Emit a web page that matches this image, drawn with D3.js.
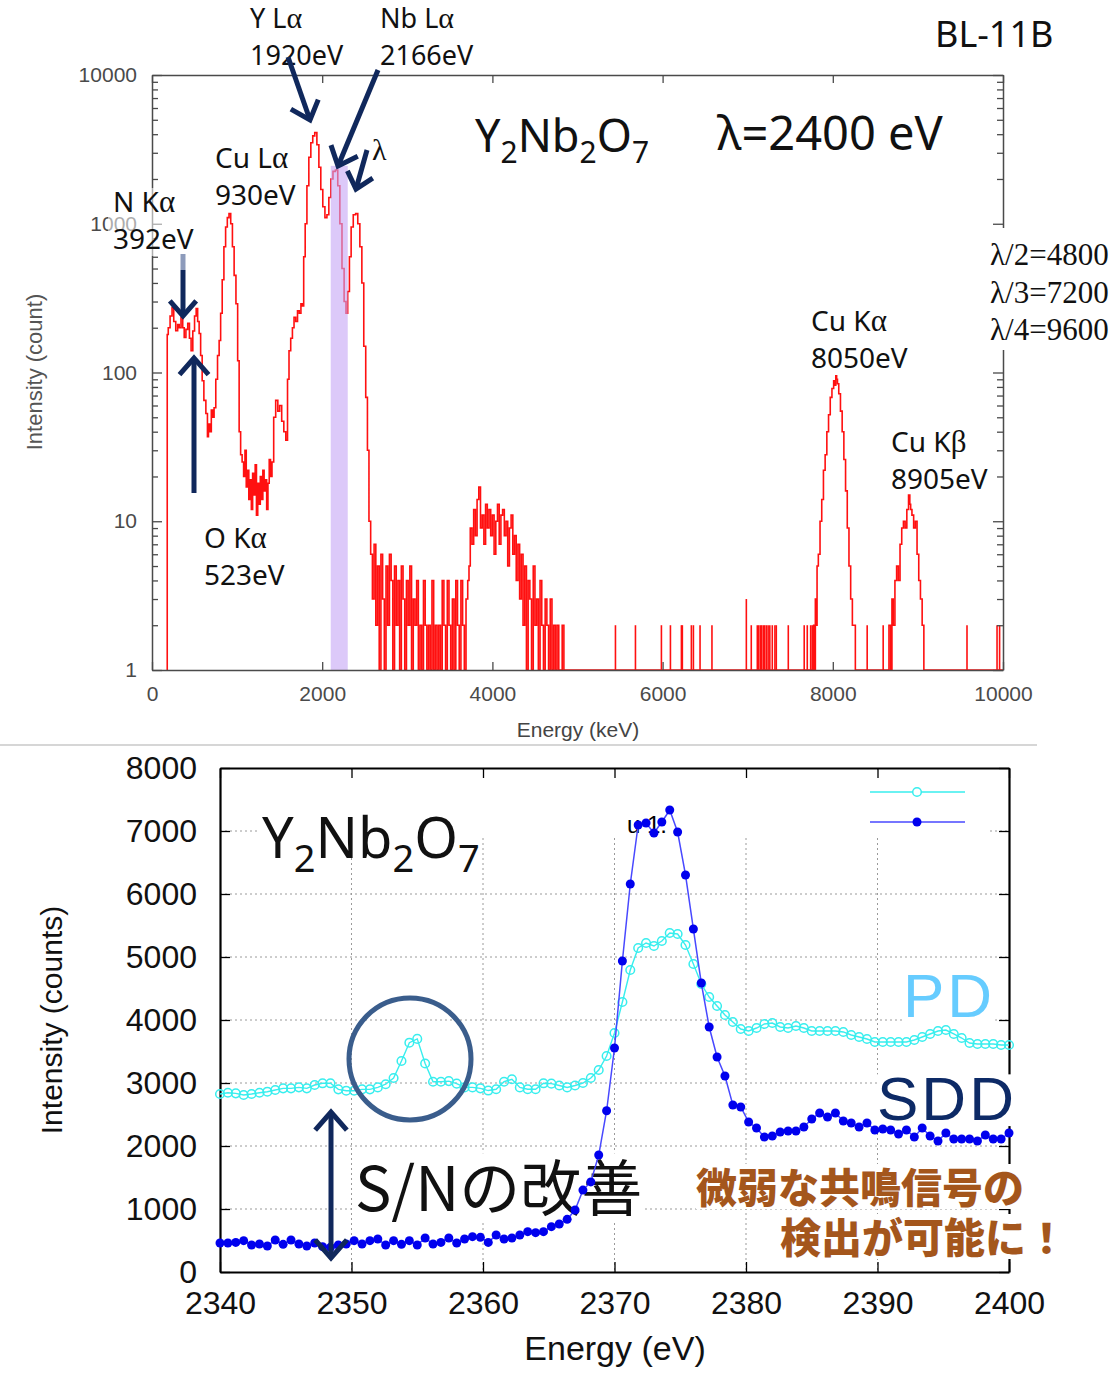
<!DOCTYPE html>
<html><head><meta charset="utf-8">
<script src="https://cdn.jsdelivr.net/npm/d3@7"></script>
<style>body{margin:0;background:#fff}svg{display:block}</style>
</head><body>
<svg id="c" width="1115" height="1394"></svg>
<script>
// ===== TOP PANEL DATA (fluorescence spectrum, Energy eV -> counts) =====
const specNO = [[170,1],[176,1],[182,180],[200,200],[225,240],[246,273],[265,220],[293,191],[310,210],[330,200],[352,235],[370,200],[387,172],[410,195],[430,214],[450,170],[469,140],[490,190],[510,240],[528,269],[545,220],[563,183],[580,130],[599,88],[620,65],[646,53],[657,37],[670,45],[690,40],[704,56],[720,50],[739,58],[760,90],[780,130],[798,164]];
const specCuL = [[815,250],[835,420],[855,700],[875,950],[895,1100],[915,1170],[935,1000],[955,700],[975,450],[998,290],[1015,120],[1033,40],[1050,28],[1068,25],[1085,20],[1100,30],[1115,17],[1130,22],[1145,14],[1160,19],[1175,12],[1190,21],[1205,15],[1220,24],[1235,11],[1250,18],[1265,13],[1280,20],[1295,14],[1310,22],[1325,16],[1340,19],[1355,12],[1370,18],[1385,26]];
const specYNb = [[1400,20],[1420,25],[1440,50],[1467,65],[1490,55],[1510,60],[1538,47],[1560,40],[1585,35],[1600,90],[1620,140],[1640,170],[1660,200],[1678,235],[1700,220],[1720,260],[1740,250],[1760,290],[1775,280],[1790,600],[1810,1000],[1831,1800],[1855,2800],[1878,3500],[1900,3900],[1925,4100],[1950,3400],[1972,2400],[1995,1700],[2019,1300],[2045,1100],[2066,1150],[2090,1500],[2113,2000],[2140,2250],[2171,2300],[2195,1800],[2220,1000],[2245,500],[2270,300],[2289,250],[2310,350],[2330,600],[2350,950],[2380,1150],[2406,1170],[2430,1000],[2455,700],[2477,400],[2500,150],[2523,68],[2540,30],[2559,10]];
const specNoise = [[2580,6],[2600,3],[2620,7],[2640,2],[2660,5],[2680,1],[2700,6],[2720,3],[2740,1],[2760,5],[2780,2],[2800,6],[2820,4],[2840,1],[2860,5],[2880,2],[2900,4],[2920,1],[2940,5],[2960,3],[2980,1],[3000,4],[3020,2],[3040,5],[3060,1],[3080,3],[3100,2],[3120,4],[3140,1],[3160,2],[3180,1],[3200,4],[3220,2],[3240,1],[3260,2],[3280,1],[3300,4],[3320,1],[3340,2],[3360,1],[3380,2],[3400,1],[3420,4],[3440,2],[3460,1],[3480,4],[3500,2],[3520,1],[3540,3],[3560,1],[3580,4],[3600,2],[3620,1],[3640,4],[3660,2],[3680,1],[3700,3],[3720,4]];
const specBump = [[3730,5],[3750,9],[3770,7],[3790,12],[3810,8],[3830,14],[3850,17],[3870,9],[3890,11],[3910,7],[3930,13],[3950,9],[3970,12],[3990,8],[4010,11],[4030,6],[4050,10],[4070,13],[4090,7],[4110,11],[4130,12],[4150,8],[4170,10],[4190,5],[4210,9],[4230,11],[4250,6],[4270,8],[4290,4],[4310,7],[4330,3],[4350,6],[4370,2],[4390,5],[4410,1],[4430,4],[4450,3],[4470,1],[4490,5],[4510,2],[4530,3],[4550,1],[4570,4],[4590,2],[4610,1],[4630,3],[4650,2],[4670,1],[4690,3],[4710,1],[4730,2],[4750,1],[4770,2],[4790,1],[4810,1],[4830,2],[4850,1],[4870,1]];
const specCuKa = [[7770,1],[7780,2],[7790,1],[7800,3],[7810,2],[7820,5],[7840,6],[7860,10],[7880,14],[7900,22],[7920,28],[7940,40],[7960,52],[7980,68],[8000,78],[8020,88],[8030,82],[8040,95],[8050,90],[8060,84],[8080,72],[8100,55],[8120,40],[8140,26],[8160,16],[8180,9],[8200,5],[8220,3],[8240,2],[8260,2],[8270,1]];
const specCuKb = [[8650,1],[8670,2],[8690,1],[8700,3],[8720,2],[8740,4],[8760,5],[8780,4],[8800,7],[8820,9],[8840,10],[8860,9],[8880,12],[8900,15],[8910,13],[8920,12],[8940,11],[8960,9],[8980,10],[9000,6],[9020,4],[9040,3],[9060,2],[9080,1],[10000,1]];
// isolated single events in the empty region [energy, counts]
const sparseSpikes = [[5446,2],[5681,2],[5986,2],[6092,2],[6221,2],[6232,2],[6338,2],[6362,2],[6440,2],[6580,2],[6984,3],[7042,2],[7113,2],[7130,2],[7150,2],[7165,2],[7185,2],[7200,2],[7220,2],[7240,2],[7260,2],[7289,2],[7320,2],[7336,2],[7477,2],[7664,2],[7700,2],[7740,2],[7758,2],[8404,2],[8592,2],[9577,2],[9930,2],[9960,2]];
const bandRange = [2100, 2300];   // incident energy window (lambda)
const bandTop = 2450;
const topXTicks = [0,2000,4000,6000,8000,10000];
const topYTicks = [1,10,100,1000,10000];

// ===== BOTTOM PANEL DATA (scan 2340-2400 eV, 0.6 eV step) =====
const scanStart = 2340, scanStep = 0.6;
const pdCounts = [2825,2846,2836,2810,2825,2846,2862,2889,2915,2915,2931,2915,2968,2995,2995,2899,2878,2878,2899,
 2899,2930,2980,3080,3350,3640,3700,3310,3020,3020,3030,2990,2930,2930,2915,2880,2900,3020,3060,2930,2900,2900,2995,2990,2960,2930,2960,3000,
 3079,3206,3429,3794,4286,4794,5143,5222,5175,5254,5381,5365,5190,4889,4571,4365,4222,4079,3968,3857,
 3825,3873,3937,3952,3889,3873,3905,3873,3825,3825,3825,3825,3810,3762,3730,3698,3651,3651,3651,3651,
 3651,3683,3730,3778,3825,3841,3778,3714,3635,3619,3619,3619,3603,3603];
const sddCounts = [460,460,470,497,428,444,413,508,439,508,444,413,460,402,391,428,444,497,444,497,
 523,428,497,439,497,428,540,444,470,540,460,523,561,550,470,587,523,540,587,640,
 624,640,720,762,836,984,1300,1430,1857,2560,
 3555,4937,6159,7095,7127,6968,7143,7333,6984,6302,5444,4587,3889,3413,3111,2651,2619,2381,2286,2143,
 2159,2222,2238,2238,2302,2429,2524,2460,2524,2397,2365,2302,2365,2254,2270,2254,2190,2254,2143,2286,
 2159,2079,2206,2111,2111,2111,2079,2175,2111,2111,2206];
const bottomXTicks = [2340,2350,2360,2370,2380,2390,2400];
const bottomYTicks = [0,1000,2000,3000,4000,5000,6000,7000,8000];

const svg = d3.select('#c');
const defs = svg.append('defs');
defs.append('clipPath').attr('id','topclip').append('rect').attr('x',0).attr('y',0).attr('width',1038).attr('height',745);
defs.append('clipPath').attr('id','plotclip').append('rect').attr('x',152).attr('y',75).attr('width',851).attr('height',596);

const NAVY = '#10285c';
function arrow(g, x1, y1, x2, y2, opts = {}) {
  const col = opts.color || NAVY, w = opts.width || 5, L = opts.head || 22;
  g.append('line').attr('x1',x1).attr('y1',y1).attr('x2',x2).attr('y2',y2)
    .attr('stroke',col).attr('stroke-width',w);
  const chev = (tx, ty, a) => {
    const s = 0.72;
    const p1 = [tx - L*Math.cos(a - s), ty - L*Math.sin(a - s)];
    const p2 = [tx - L*Math.cos(a + s), ty - L*Math.sin(a + s)];
    g.append('polyline').attr('points',[p1,[tx,ty],p2].map(p=>p.join(',')).join(' '))
      .attr('fill','none').attr('stroke',col).attr('stroke-width',w).attr('stroke-linejoin','miter');
  };
  const a = Math.atan2(y2-y1, x2-x1);
  chev(x2, y2, a);
  if (opts.both) chev(x1, y1, a + Math.PI);
}

// ================= TOP PANEL =================
const xTop = d3.scaleLinear().domain([0,10000]).range([152,1003]);
const yTop = d3.scaleLog().domain([1,10000]).range([670,75]);
const gTop = svg.append('g').attr('clip-path','url(#topclip)');

const spectrum = [].concat(specNO, specCuL, specYNb, specNoise, specBump, [[4880,1],[7760,1]], specCuKa, [[8290,1],[8640,1]], specCuKb);
const plotG = gTop.append('g').attr('clip-path','url(#plotclip)');
plotG.append('path').datum(spectrum)
  .attr('d', d3.line().x(d=>xTop(d[0])).y(d=>yTop(d[1])).curve(d3.curveStep))
  .attr('fill','none').attr('stroke','#ff1010').attr('stroke-width',1.6);
plotG.selectAll('line.spk').data(sparseSpikes).join('line').attr('class','spk')
  .attr('x1',d=>xTop(d[0])).attr('x2',d=>xTop(d[0]))
  .attr('y1',yTop(1)).attr('y2',d=>yTop(d[1]))
  .attr('stroke','#ff1010').attr('stroke-width',1.6);
// lambda window band
plotG.append('rect').attr('x',xTop(bandRange[0])).attr('width',xTop(bandRange[1])-xTop(bandRange[0]))
  .attr('y',yTop(bandTop)).attr('height',yTop(1)-yTop(bandTop))
  .attr('fill','#c5a5f5').attr('opacity',0.6);

const minorY = [];
[1,10,100,1000].forEach(d=>{ for (let k=2;k<=9;k++) minorY.push(d*k); });
const axCol = '#4a4a4a';
function styleAxis(sel, fs, col) {
  sel.select('.domain').attr('stroke',col).attr('stroke-width',1.5);
  sel.selectAll('.tick line').attr('stroke',col).attr('stroke-width',1.3);
  sel.selectAll('.tick text').attr('fill',col).style('font-family','"Liberation Sans", Arial, sans-serif').style('font-size',fs+'px');
}
gTop.append('g').attr('transform','translate(152,0)')
  .call(d3.axisLeft(yTop).tickValues(topYTicks).tickFormat(d3.format('d')).tickSize(-10).tickSizeOuter(0).tickPadding(15))
  .call(s=>styleAxis(s,21,axCol));
gTop.append('g').attr('transform','translate(152,0)')
  .call(d3.axisLeft(yTop).tickValues(minorY).tickFormat('').tickSize(-6))
  .call(s=>{styleAxis(s,21,axCol); s.select('.domain').remove();});
gTop.append('g').attr('transform','translate(1003,0)')
  .call(d3.axisRight(yTop).tickValues(topYTicks).tickFormat('').tickSize(-10).tickSizeOuter(0))
  .call(s=>styleAxis(s,21,axCol));
gTop.append('g').attr('transform','translate(1003,0)')
  .call(d3.axisRight(yTop).tickValues(minorY).tickFormat('').tickSize(-6))
  .call(s=>{styleAxis(s,21,axCol); s.select('.domain').remove();});
gTop.append('g').attr('transform','translate(0,670)')
  .call(d3.axisBottom(xTop).tickValues(topXTicks).tickFormat(d3.format('d')).tickSize(-8).tickSizeOuter(0).tickPadding(16))
  .call(s=>styleAxis(s,21,axCol));
gTop.append('g').attr('transform','translate(0,75)')
  .call(d3.axisTop(xTop).tickValues(topXTicks).tickFormat('').tickSize(-8).tickSizeOuter(0))
  .call(s=>styleAxis(s,21,axCol));

gTop.append('text').attr('transform','translate(42,372) rotate(-90)').attr('text-anchor','middle')
  .style('font-family','"Liberation Sans", Arial, sans-serif').style('font-size','22px').attr('fill','#555')
  .text('Intensity (count)');
gTop.append('text').attr('x',578).attr('y',737).attr('text-anchor','middle')
  .style('font-family','"Liberation Sans", Arial, sans-serif').style('font-size','21px').attr('fill','#444')
  .text('Energy (keV)');

// separator
svg.append('line').attr('x1',0).attr('x2',1037).attr('y1',745).attr('y2',745).attr('stroke','#d6d6d6').attr('stroke-width',2);

// annotations top
const ann = svg.append('g').style('font-family','"Noto Sans", "Open Sans", sans-serif').attr('fill','#111');
ann.append('rect').attr('x',108).attr('y',188).attr('width',92).attr('height',68).attr('fill','#fff').attr('opacity',0.55);
ann.append('rect').attr('x',986).attr('y',228).attr('width',129).attr('height',122).attr('fill','#fff');
function label2(x, y1, name, greek, l2, fs) {
  const t = ann.append('text').attr('x',x).attr('y',y1).style('font-size',fs+'px');
  t.append('tspan').text(name);
  t.append('tspan').style('font-family','"Liberation Serif", serif').style('font-size',(fs+3)+'px').text(greek);
  ann.append('text').attr('x',x).attr('y',y1+37).style('font-size',fs+'px').text(l2);
}
label2(250, 28, 'Y L', 'α', '1920eV', 27);
label2(380, 28, 'Nb L', 'α', '2166eV', 27);
label2(215, 168, 'Cu L', 'α', '930eV', 28);
label2(113, 212, 'N K', 'α', '392eV', 28);
label2(204, 548, 'O K', 'α', '523eV', 28);
label2(811, 331, 'Cu K', 'α', '8050eV', 28);
label2(891, 452, 'Cu K', 'β', '8905eV', 28);
ann.append('text').attr('x',935).attr('y',47).style('font-size','36px').text('BL-11B');
ann.append('text').attr('x',372).attr('y',160).style('font-family','"Liberation Serif", serif').style('font-size','30px').text('λ');
const f1 = ann.append('text').attr('x',475).attr('y',152).style('font-size','45px');
[['Y',0],['2',1],['Nb',0],['2',1],['O',0],['7',1]].forEach(([t,s])=>{
  f1.append('tspan').attr('dy', s ? 11 : (t==='Y'?0:-11)).style('font-size', s ? '30px':'45px').text(t);
});
ann.append('text').attr('x',717).attr('y',150).style('font-size','47px').text('λ=2400 eV');
['λ/2=4800','λ/3=7200','λ/4=9600'].forEach((t,i)=>{
  ann.append('text').attr('x',990).attr('y',265+i*37.5).style('font-family','"Liberation Serif", serif').style('font-size','31px').text(t);
});
// arrows top
arrow(ann, 288, 57, 310, 120);
arrow(ann, 378, 70, 338, 166);
arrow(ann, 367, 150, 356, 189, {head:20});
ann.append('line').attr('x1',183).attr('x2',183).attr('y1',254).attr('y2',270).attr('stroke','#8d9bbb').attr('stroke-width',5);
arrow(ann, 183, 270, 183, 316, {head:20});
arrow(ann, 194, 493, 194, 358, {head:22});

// ================= BOTTOM PANEL =================
const xB = d3.scaleLinear().domain([2340,2400]).range([220,1009]);
const yB = d3.scaleLinear().domain([0,8000]).range([1272,768]);
const scanE = pdCounts.map((_, i) => scanStart + scanStep*i);
const pd = scanE.map((e,i)=>[e, pdCounts[i]]);
const sdd = scanE.map((e,i)=>[e, sddCounts[i]]);
const gB = svg.append('g');

// grid
gB.selectAll('line.gx').data(bottomXTicks.slice(1,-1)).join('line').attr('class','gx')
  .attr('x1',d=>xB(d)).attr('x2',d=>xB(d)).attr('y1',yB(8000)).attr('y2',yB(0))
  .attr('stroke','#9a9a9a').attr('stroke-width',1).attr('stroke-dasharray','2,3');
gB.selectAll('line.gy').data(bottomYTicks.slice(1,-1)).join('line').attr('class','gy')
  .attr('x1',xB(2340)).attr('x2',xB(2400)).attr('y1',d=>yB(d)).attr('y2',d=>yB(d))
  .attr('stroke','#9a9a9a').attr('stroke-width',1).attr('stroke-dasharray','2,3');
// opaque key box
gB.append('rect').attr('x',260).attr('y',770).attr('width',727).attr('height',68).attr('fill','#fff');

// axes
const fontB = '"Liberation Sans", Arial, sans-serif';
const fmt = d3.format('d');
gB.append('g').attr('transform','translate(0,1272)')
  .call(d3.axisBottom(xB).tickValues(bottomXTicks).tickFormat(fmt).tickSize(-10).tickSizeOuter(0).tickPadding(19))
  .call(s=>styleAxis(s,32,'#000')).call(s=>s.select('.domain').attr('stroke-width',2.2));
gB.append('g').attr('transform','translate(0,768)')
  .call(d3.axisTop(xB).tickValues(bottomXTicks).tickFormat('').tickSize(-10).tickSizeOuter(0))
  .call(s=>styleAxis(s,32,'#000')).call(s=>s.select('.domain').attr('stroke-width',2.2));
gB.append('g').attr('transform','translate(220,0)')
  .call(d3.axisLeft(yB).tickValues(bottomYTicks).tickFormat(fmt).tickSize(-10).tickSizeOuter(0).tickPadding(23))
  .call(s=>styleAxis(s,32,'#000')).call(s=>s.select('.domain').attr('stroke-width',2.2));
gB.append('g').attr('transform','translate(1009,0)')
  .call(d3.axisRight(yB).tickValues(bottomYTicks).tickFormat('').tickSize(-10).tickSizeOuter(0))
  .call(s=>styleAxis(s,32,'#000')).call(s=>s.select('.domain').attr('stroke-width',2.2));
gB.selectAll('.tick text').style('font-family',fontB).attr('fill','#111');

gB.append('text').attr('transform','translate(62,1020) rotate(-90)').attr('text-anchor','middle')
  .style('font-family',fontB).style('font-size','30px').attr('fill','#111').text('Intensity (counts)');
gB.append('text').attr('x',615).attr('y',1360).attr('text-anchor','middle')
  .style('font-family',fontB).style('font-size','34px').attr('fill','#111').text('Energy (eV)');

// key fragment
gB.append('text').attr('x',627).attr('y',833).style('font-family',fontB).style('font-size','24px').attr('fill','#000').text('u 1:');

// texts with white backgrounds
function bgText(x, y, str, style, anchor) {
  const t = gB.append('text').attr('x',x).attr('y',y).attr('text-anchor',anchor||'start');
  Object.entries(style).forEach(([k,v])=>t.style(k,v));
  t.text(str);
  const bb = t.node().getBBox();
  gB.insert('rect', () => t.node()).attr('x',bb.x).attr('y',bb.y+bb.height*0.15).attr('width',bb.width).attr('height',bb.height*0.75).attr('fill','#fff');
  return t;
}
// formula
const f2 = gB.append('text').attr('x',262).attr('y',858).style('font-family','"Noto Sans", sans-serif').attr('fill','#111');
[['Y',0],['2',1],['Nb',0],['2',1],['O',0],['7',1]].forEach(([t,s])=>{
  f2.append('tspan').attr('dy', s ? 14 : (t==='Y'?0:-14)).style('font-size', s ? '38px':'56px').text(t);
});

bgText(355, 1211, 'S/Nの改善', {'font-family':'"Noto Sans CJK JP", sans-serif','font-size':'61px','fill':'#111'});
bgText(696, 1203, '微弱な共鳴信号の', {'font-family':'"Noto Sans CJK JP", sans-serif','font-size':'41px','font-weight':'900','fill':'#a4561c'});
bgText(780, 1253, '検出が可能に！', {'font-family':'"Noto Sans CJK JP", sans-serif','font-size':'41px','font-weight':'900','fill':'#a4561c'});
bgText(877, 1120, 'SDD', {'font-family':fontB,'font-size':'62px','fill':'#0d2a66','letter-spacing':'3px'});
bgText(903, 1017, 'PD', {'font-family':fontB,'font-size':'62px','fill':'#66ccff','letter-spacing':'3px'});

// PD series
const lineB = d3.line().x(d=>xB(d[0])).y(d=>yB(d[1]));
gB.append('path').datum(pd).attr('d',lineB).attr('fill','none').attr('stroke','#38eeee').attr('stroke-width',1.4);
gB.selectAll('circle.pd').data(pd).join('circle').attr('class','pd')
  .attr('cx',d=>xB(d[0])).attr('cy',d=>yB(d[1])).attr('r',4.3)
  .attr('fill','none').attr('stroke','#38eeee').attr('stroke-width',1.5);
// SDD series
gB.append('path').datum(sdd).attr('d',lineB).attr('fill','none').attr('stroke','#4848ff').attr('stroke-width',1.5);
gB.selectAll('circle.sdd').data(sdd).join('circle').attr('class','sdd')
  .attr('cx',d=>xB(d[0])).attr('cy',d=>yB(d[1])).attr('r',4.5).attr('fill','#0000ee');

// legend samples
gB.append('line').attr('x1',870).attr('x2',965).attr('y1',792).attr('y2',792).attr('stroke','#38eeee').attr('stroke-width',1.4);
gB.append('circle').attr('cx',917).attr('cy',792).attr('r',4.3).attr('fill','#fff').attr('stroke','#38eeee').attr('stroke-width',1.5);
gB.append('line').attr('x1',870).attr('x2',965).attr('y1',822).attr('y2',822).attr('stroke','#4848ff').attr('stroke-width',1.5);
gB.append('circle').attr('cx',917).attr('cy',822).attr('r',4.5).attr('fill','#0000ee');

// circle highlight & S/N arrow
gB.append('circle').attr('cx',410).attr('cy',1059).attr('r',61).attr('fill','none').attr('stroke','#3a5d8c').attr('stroke-width',5);
arrow(gB, 331, 1112, 331, 1258, {both:true, head:24});
</script>
</body></html>
